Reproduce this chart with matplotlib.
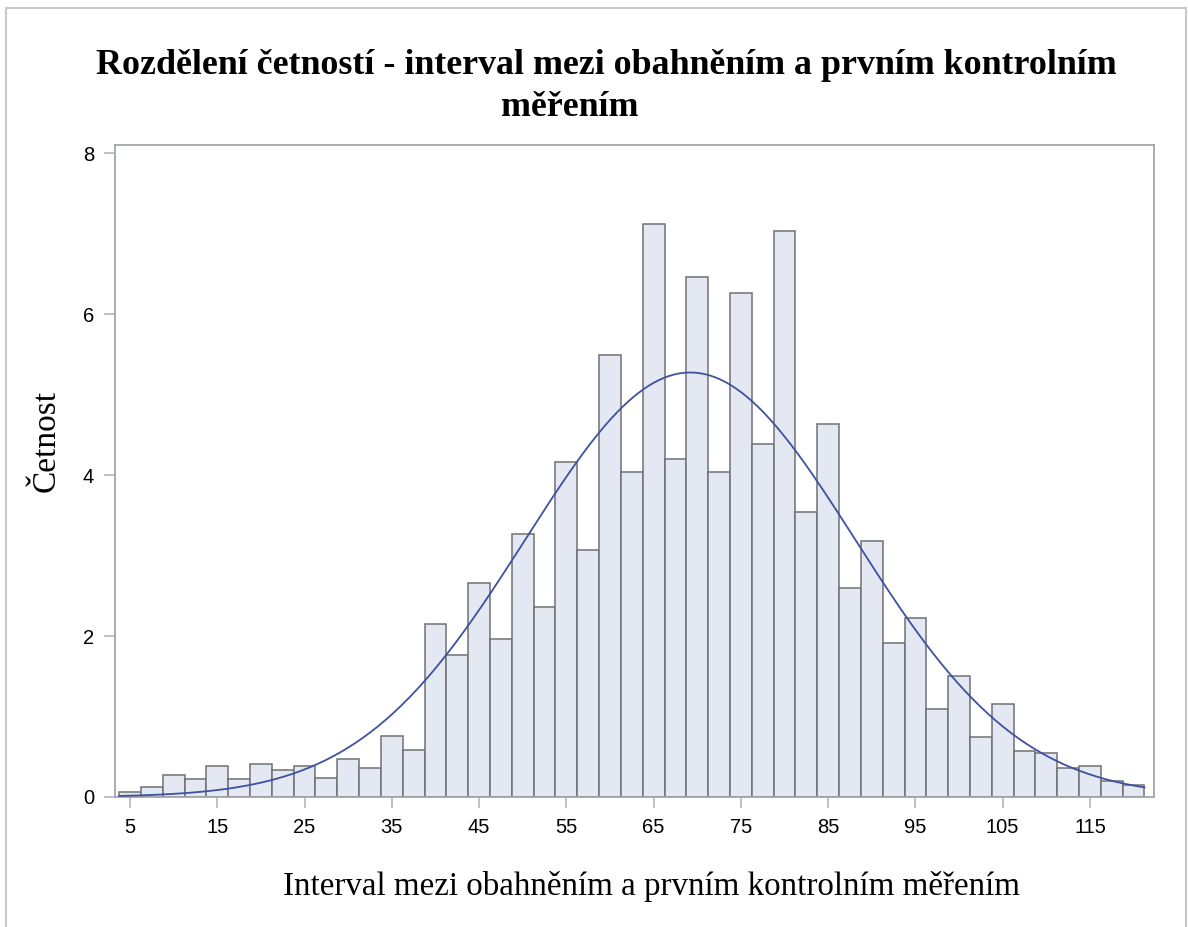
import numpy as np
import matplotlib
matplotlib.use("Agg")
import matplotlib.pyplot as plt
from matplotlib.patches import Rectangle

# histogram bins (midpoints, width 2.5) and percentages
bin_mid = np.arange(5, 120.1, 2.5)
pct = [0.06, 0.13, 0.27, 0.22, 0.38, 0.22, 0.41, 0.34, 0.38, 0.23,
       0.47, 0.36, 0.76, 0.58, 2.15, 1.77, 2.66, 1.96, 3.27, 2.36,
       4.16, 3.07, 5.50, 4.04, 7.12, 4.20, 6.46, 4.04, 6.26, 4.39,
       7.03, 3.54, 4.64, 2.60, 3.18, 1.91, 2.22, 1.09, 1.50, 0.74,
       1.15, 0.57, 0.55, 0.36, 0.38, 0.20, 0.15]
bin_w = 2.5

# fitted normal curve parameters
mu = 69.2
sigma = 18.9

x_ticks = [5, 15, 25, 35, 45, 55, 65, 75, 85, 95, 105, 115]
y_ticks = [0, 2, 4, 6, 8]

title1 = "Rozdělení četností - interval mezi obahněním a prvním kontrolním"
title2 = "měřením"
xlabel = "Interval mezi obahněním a prvním kontrolním měřením"
ylabel = "Četnost"

fig = plt.figure(figsize=(11.88, 9.27), dpi=100)
ax = fig.add_axes([115/1188, 1 - 797/927, (1154-115)/1188, (797-145)/927])

ax.bar(bin_mid, pct, width=bin_w, color="#e3e8f2", edgecolor="#6e7074",
       linewidth=1.1, zorder=2)

# normal curve over the histogram range
xs = np.linspace(bin_mid[0] - bin_w / 2, bin_mid[-1] + bin_w / 2, 400)
ys = 100 * bin_w / (sigma * np.sqrt(2 * np.pi)) * np.exp(-(xs - mu) ** 2 / (2 * sigma ** 2))
ax.plot(xs, ys, color="#3f51a0", linewidth=1.3, zorder=3)

ax.set_xlim(3.28, 122.34)
ax.set_ylim(0, 8.105)
ax.set_xticks(x_ticks)
ax.set_yticks(y_ticks)
for lab in ax.get_xticklabels() + ax.get_yticklabels():
    lab.set_family(["Liberation Sans", "DejaVu Sans"])
    lab.set_fontsize(14.5)
ax.tick_params(axis="both", length=8, width=1.2, color="#b4b6b8", pad=7)
for s in ax.spines.values():
    s.set_color("#a2a6aa")
    s.set_linewidth(1.3)

fig.text(283/1188, 1 - 886/927, xlabel, family="Liberation Serif",
         fontsize=23.8, ha="left", va="center")
fig.text(46/1188, 1 - 441/927, ylabel, family="Liberation Serif",
         fontsize=24, ha="center", va="center", rotation=90)
fig.text(606/1188, 1 - 65/927, title1, family="Liberation Serif",
         fontweight="bold", fontsize=25.8, ha="center", va="center")
fig.text(570/1188, 1 - 108/927, title2, family="Liberation Serif",
         fontweight="bold", fontsize=25.8, ha="center", va="center")

# light outer border
fig.add_artist(Rectangle((6/1188, -0.01), (1186-6)/1188, 1 - 8/927 + 0.01,
                         transform=fig.transFigure, fill=False,
                         edgecolor="#c8c8c8", linewidth=1.5))

fig.savefig("out.png", dpi=100)
